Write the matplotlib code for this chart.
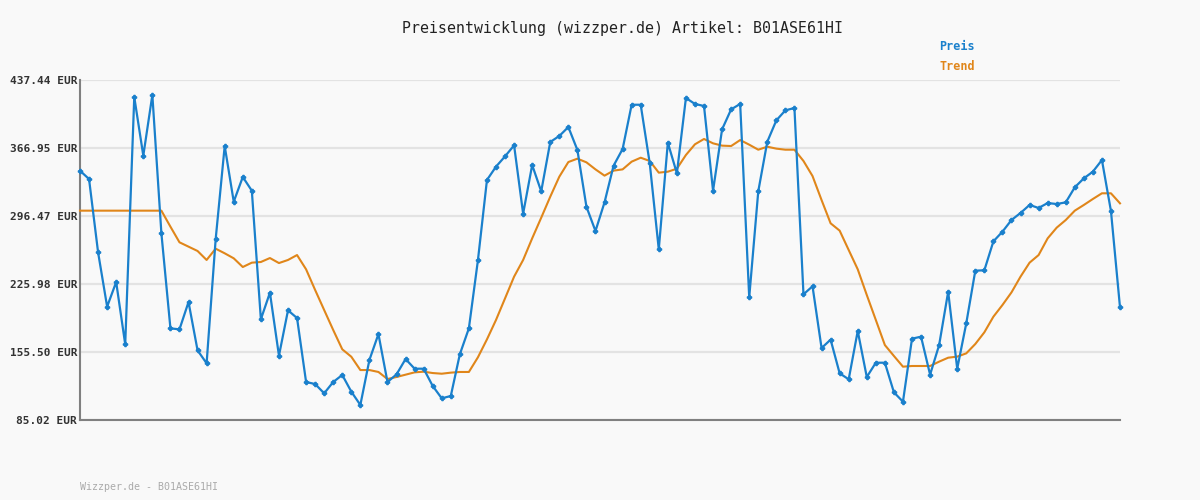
import numpy as np
import matplotlib
matplotlib.use('Agg')
import matplotlib.pyplot as plt

# price readings (EUR), one per sample
preis = [343.4, 334.8, 258.8, 202.5, 228.0, 163.5, 419.8, 359.0, 421.9, 278.5,
         180.0, 179.0, 207.3, 157.2, 143.8, 272.3, 369.0, 311.3, 336.9, 322.7,
         189.4, 217.0, 151.7, 198.7, 190.7, 124.4, 122.3, 112.7, 124.4, 131.7,
         114.4, 100.6, 147.2, 174.1, 124.4, 132.3, 148.2, 138.2, 138.2, 120.3,
         107.5, 109.9, 153.1, 180.0, 250.5, 333.8, 347.6, 358.3, 369.7, 298.9,
         349.3, 322.0, 373.2, 379.4, 388.7, 364.9, 306.1, 280.9, 310.6, 348.6,
         365.9, 411.8, 411.8, 351.1, 261.9, 372.5, 340.7, 418.8, 412.6, 410.5,
         322.7, 386.3, 407.0, 412.6, 212.1, 322.0, 373.5, 395.6, 406.0, 408.4,
         215.3, 223.6, 159.6, 168.3, 133.4, 127.2, 177.3, 129.6, 144.4, 144.4,
         113.7, 104.0, 169.3, 171.4, 132.0, 162.7, 218.0, 138.2, 185.2, 239.8,
         240.2, 270.2, 280.2, 292.3, 299.6, 307.9, 304.8, 309.9, 308.9, 310.6,
         326.2, 335.5, 342.4, 354.5, 301.6, 201.8]

trend = [302.0, 302.0, 302.0, 302.0, 302.0, 302.0, 302.0, 302.0, 302.0, 302.0,
         285.4, 269.2, 264.7, 260.2, 250.9, 262.6, 257.8, 252.6, 243.6, 248.1,
         248.8, 252.9, 247.7, 250.9, 256.0, 241.2, 219.8, 199.0, 178.3, 158.3,
         150.6, 136.8, 136.8, 134.8, 127.5, 129.6, 132.0, 134.4, 135.1, 133.7,
         133.0, 134.1, 134.8, 134.8, 150.0, 168.6, 188.7, 211.1, 233.6, 250.9,
         273.3, 294.7, 316.5, 337.2, 352.4, 355.9, 352.1, 344.8, 338.3, 343.5,
         344.8, 352.8, 356.9, 353.5, 341.4, 342.4, 345.5, 359.7, 370.8, 376.3,
         371.8, 369.4, 369.0, 375.2, 370.4, 365.2, 368.3, 366.3, 365.2, 365.2,
         353.5, 337.9, 313.0, 288.9, 281.3, 261.2, 241.2, 214.6, 188.7, 162.7,
         151.4, 140.3, 141.0, 141.0, 141.0, 145.5, 149.6, 150.7, 154.1, 163.8,
         175.9, 192.1, 204.2, 217.3, 233.6, 248.1, 256.0, 273.3, 284.4, 292.3,
         302.0, 307.9, 314.1, 320.0, 320.0, 309.6]

yticks = [85.02, 155.50, 225.98, 296.47, 366.95, 437.44]
ylabels = ['%.2f EUR' % v for v in yticks]

bg = '#f9f9f9'
blue = '#1a80cc'
orange = '#e0861a'
mono = 'DejaVu Sans Mono'

fig = plt.figure(figsize=(12, 5), dpi=100, facecolor=bg)
ax = fig.add_axes([80/1200, 80/500, 1040/1200, 340/500], facecolor=bg)

x = np.arange(len(preis))
ax.plot(x, trend, color=orange, lw=1.5, zorder=3, clip_on=False)
ax.plot(x, preis, color=blue, lw=1.6, marker='P', ms=3, zorder=4, clip_on=False)

ax.set_xlim(0, len(preis) - 1)
ax.set_ylim(yticks[0], yticks[-1])
ax.set_yticks(yticks)
ax.set_yticklabels(ylabels, family=mono, fontsize=8, fontweight='bold', color='#333333')
ax.set_xticks([])
ax.tick_params(axis='y', length=0, pad=2)
ax.grid(axis='y', color='#e3e3e3', lw=1.6, zorder=0)
ax.set_axisbelow(True)

for s in ['top', 'right']:
    ax.spines[s].set_visible(False)
for s in ['left', 'bottom']:
    ax.spines[s].set_color('#808080')
    ax.spines[s].set_linewidth(1.5)

fig.text(623/1200, 1 - 28/500, 'Preisentwicklung (wizzper.de) Artikel: B01ASE61HI',
         family=mono, fontsize=10.7, color='#222222', ha='center', va='center')
fig.text(939/1200, 1 - 47/500, 'Preis', family=mono, fontsize=8.5,
         fontweight='bold', color=blue, ha='left', va='center')
fig.text(939/1200, 1 - 67/500, 'Trend', family=mono, fontsize=8.5,
         fontweight='bold', color=orange, ha='left', va='center')
fig.text(80/1200, 1 - 487/500, 'Wizzper.de - B01ASE61HI', family=mono,
         fontsize=7.2, color='#aaaaaa', ha='left', va='center')

fig.savefig('out.png', dpi=100, facecolor=bg)
